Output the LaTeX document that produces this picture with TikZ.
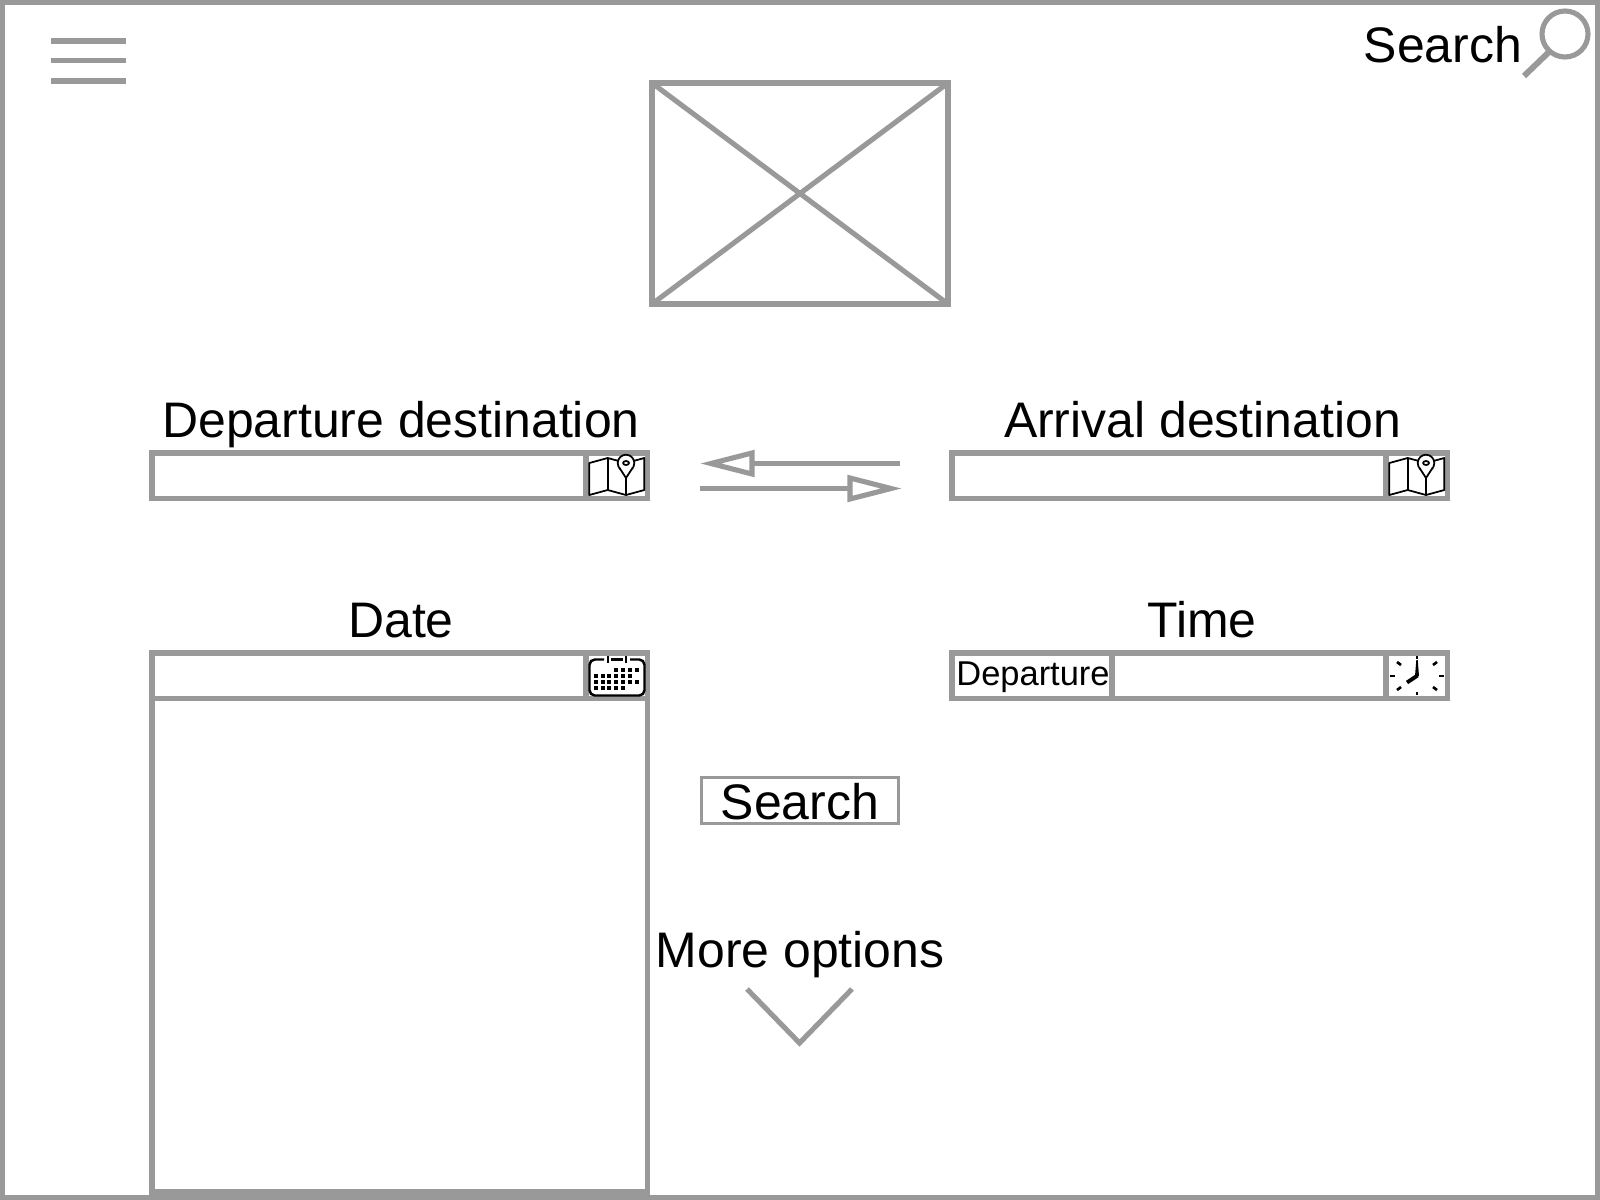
\documentclass[tikz,border=0pt]{standalone}
\usepackage{fontspec}
\setmainfont{Liberation Sans}
\definecolor{wire}{RGB}{153,153,153}
\tikzset{
    wireline/.style={draw=wire, line width=1.45pt, miter limit=10},
    thinline/.style={draw=wire, line width=0.85pt},
    headline/.style={wireline, fill=white},
    label/.style={anchor=base, font=\fontsize{14.2}{17}\selectfont},
    iconline/.style={draw=black, line width=0.5pt, line join=round},
    daycell/.style={fill=black},
    mapicon/.pic={
        \draw[iconline] (0,10) -- (18.4,5) -- (36.7,10) -- (55,5) -- (55,37) -- (36.7,42) -- (18.4,37) -- (0,42) -- cycle;
        \draw[iconline] (18.4,5) -- (18.4,37);
        \draw[iconline, fill=white] (36.7,10) circle [radius=8.3];
        % Teardrop of the pin
        \fill[white] (36.7,25) -- (29.8,14.3) -- (36.7,6) -- (43.6,14.3) -- cycle;
        \draw[iconline] (29.8,14.3) -- (36.7,25) -- (43.6,14.3);
        \draw[iconline] (36.7,25) -- (36.7,42);
        \draw[iconline] (36.7,10) ellipse [x radius=3, y radius=2];
    }
}
\begin{document}
\begin{tikzpicture}[x=0.01cm, y=-0.01cm]
    \useasboundingbox (0,0) rectangle (1600,1200);

    % Outer frame
    \draw[wireline] (2.5,2.5) rectangle (1597.5,1197.5);

    % Menu bars
    \foreach \y in {41,60.5,81}
        \draw[wireline] (51,\y) -- (126,\y);

    % Search with magnifier
    \node[label] (toplabel) at (1443,62) {Search};
    \draw[wireline] (1565,34) circle [radius=23];
    \draw[wireline, line width=1.7pt] (1549,52) -- (1524,76);

    % Image placeholder
    \draw[wireline] (652,83) rectangle (948,304);
    \draw[wireline] (652,83) -- (948,304) (948,83) -- (652,304);

    % Departure field
    \node[label] (deplabel) at (401,437) {Departure destination};
    \draw[wireline] (152,453) rectangle (647.5,498.5);
    \draw[wireline] (586,453) -- (586,498.5);
    \pic at (589.3,453) {mapicon};

    % Arrival field
    \node[label] (arrlabel) at (1202.5,437) {Arrival destination};
    \draw[wireline] (952,453) rectangle (1447.5,498.5);
    \draw[wireline] (1386,453) -- (1386,498.5);
    \pic at (1389.3,453) {mapicon};

    % Swap arrows
    \coordinate (swapa) at (900,463.5);
    \coordinate (swapb) at (752,463.5);
    \coordinate (swapc) at (700,488.5);
    \coordinate (swapd) at (850,488.5);
    \draw[wireline] (swapa) -- (swapb);
    \draw[headline] (752,453) -- (711,463.5) -- (752,474) -- cycle;
    \draw[wireline] (swapc) -- (swapd);
    \draw[headline] (850,478) -- (891,488.5) -- (850,499) -- cycle;

    % Date field with calendar below
    \node[label] (datelabel) at (401,637) {Date};
    \draw[wireline] (152,653) rectangle (647.5,698.5);
    \draw[wireline] (586,653) -- (586,698.5);
    \draw[wireline] (152,698.5) rectangle (647.5,1192);

    % Calendar icon
    \draw[black, line width=0.7pt, rounded corners=1.5pt] (604,659.5) -- (589.5,659.5) -- (589.5,695.5) -- (644.5,695.5) -- (644.5,659.5) -- (630,659.5);
    \draw[black, line width=0.7pt] (611,659.5) -- (623,659.5);
    \draw[black, line width=0.5pt] (607.7,656) -- (607.7,663) (626,656) -- (626,663);
    \foreach \x in {616,622.5,629.5,637}
        \fill[daycell] (\x-2,668) rectangle +(4,4);
    \foreach \x in {596,602.5,609,616,622.5,629.5}
        \fill[daycell] (\x-2,674) rectangle +(4,4);
    \foreach \x in {596,602.5,609,616,622.5,629.5,637}
        \fill[daycell] (\x-2,680) rectangle +(4,4);
    \foreach \x in {596,602.5,609,616,622.5}
        \fill[daycell] (\x-2,686) rectangle +(4,4);

    % Time field
    \node[label] (timelabel) at (1202,637) {Time};
    \draw[wireline] (952,653) rectangle (1447.5,698.5);
    \draw[wireline] (1112,653) -- (1112,698.5) (1386,653) -- (1386,698.5);
    \node[anchor=base, font=\fontsize{9.8}{12}\selectfont] (timemode) at (1033,685) {Departure};

    % Clock icon
    \foreach \xa/\ya/\xb/\yb in {1417/656/1417/659, 1417/692/1417/695, 1390/676/1395/676, 1439/676/1444/676,
        1397/662/1401/665, 1437/662/1433/665, 1397/690/1401/687, 1437/690/1433/687}
        \draw[black, line width=0.75pt] (\xa,\ya) -- (\xb,\yb);
    \fill[black] (1416.3,660) -- (1417.7,660) -- (1419,676) -- (1415,676) -- cycle;
    \draw[black, line width=1.1pt] (1417.5,675.5) -- (1407,682.5);

    % Search button
    \draw[thinline] (701,777) rectangle (898,823);
    \node[label] (searchbtn) at (800,819) {Search};

    % More options
    \node[label] (morelabel) at (800,967) {More options};
    \draw[wireline] (747,989) -- (799.5,1043) -- (852,989);
\end{tikzpicture}
\end{document}
